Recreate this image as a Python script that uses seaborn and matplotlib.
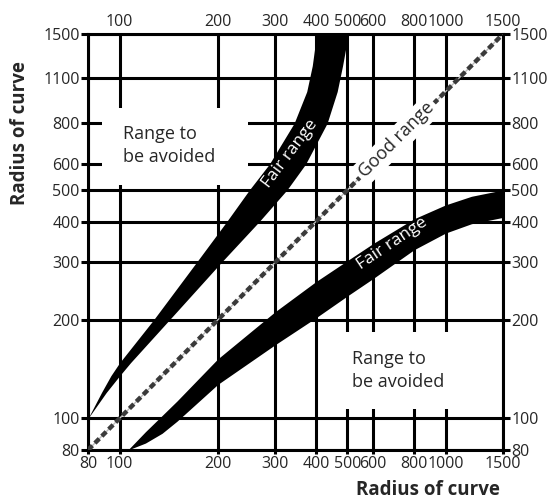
import matplotlib
matplotlib.use("Agg")
import matplotlib.pyplot as plt
import seaborn as sns
import pandas as pd
from matplotlib.patches import Rectangle
from matplotlib.ticker import NullLocator, NullFormatter

# tick values on the four sides
x_ticks = [80, 100, 200, 300, 400, 500, 600, 800, 1000, 1500]
top_ticks = [100, 200, 300, 400, 500, 600, 800, 1000, 1500]
y_ticks = [80, 100, 200, 300, 400, 500, 600, 800, 1100, 1500]

# upper "Fair range" band: left / right x edge for each radius on the y axis
upper_y = [100, 120, 135, 148, 200, 300, 400, 500, 600, 800, 1000, 1200, 1500]
upper_left = [80, 88, 94, 100, 127, 172, 213, 250, 288, 343, 375, 390, 402]
upper_right = [80, 91, 100, 108, 142, 205, 268, 326, 372, 433, 465, 483, 503]

# lower "Fair range" band: top / bottom y edge for each radius on the x axis
lower_x = [106, 120, 135, 150, 200, 300, 400, 500, 600, 800, 1000, 1200, 1500]
lower_top = [80, 91, 102, 113, 152, 212, 262, 304, 343, 408, 450, 478, 500]
lower_bottom = [80, 84, 90, 98, 127, 168, 203, 237, 268, 328, 369, 394, 412]

# "Good range" diagonal
good = pd.DataFrame({"x": [80, 1500], "y": [80, 1500]})

sns.set_style("white")
plt.rcParams["font.family"] = ["Open Sans", "DejaVu Sans"]

fig = plt.figure(figsize=(5.48, 4.99), dpi=100)
ax = fig.add_axes([88 / 548, 1 - 450 / 499, 415 / 548, 416 / 499])
ax.set_xscale("log")
ax.set_yscale("log")
ax.set_xlim(80, 1500)
ax.set_ylim(80, 1500)

ax.set_xticks(x_ticks, [str(v) for v in x_ticks])
ax.set_yticks(y_ticks, [str(v) for v in y_ticks])
ax.xaxis.set_minor_locator(NullLocator())
ax.yaxis.set_minor_locator(NullLocator())
ax.grid(True, which="major", color="black", lw=2.2)
ax.set_axisbelow(True)
for s in ax.spines.values():
    s.set_linewidth(2.2)
    s.set_color("black")
ax.tick_params(axis="y", length=5, width=2.2, pad=1, labelsize=11.5,
               direction="out", left=True, color="black")
ax.tick_params(axis="x", length=3, width=2.2, pad=1, labelsize=11.5,
               direction="out", bottom=True, color="black")

# top and right labels
secx = ax.secondary_xaxis("top")
secx.set_ticks(top_ticks, labels=[str(v) for v in top_ticks])
secx.xaxis.set_minor_locator(NullLocator())
secx.xaxis.set_minor_formatter(NullFormatter())
secx.tick_params(which="both", length=0, pad=3, labelsize=11.5)
secx.spines["top"].set_visible(False)

secy = ax.secondary_yaxis("right")
secy.set_ticks(y_ticks, labels=[str(v) for v in y_ticks])
secy.yaxis.set_minor_locator(NullLocator())
secy.yaxis.set_minor_formatter(NullFormatter())
secy.tick_params(which="major", length=5, width=2.2, pad=1, labelsize=11.5,
                 direction="out", color="black")
secy.tick_params(which="minor", length=0)
secy.spines["right"].set_visible(False)

# fair range bands
ax.fill_betweenx(upper_y, upper_left, upper_right, color="black", lw=0, zorder=2)
ax.fill_between(lower_x, lower_bottom, lower_top, color="black", lw=0, zorder=2)

# good range diagonal
sns.lineplot(data=good, x="x", y="y", ax=ax, color="#bbbbbb", lw=1, zorder=2.5)
sns.lineplot(data=good, x="x", y="y", ax=ax, color="#3a3a3a", lw=3.2,
             linestyle=(0, (1.4, 0.8)), zorder=2.6)

# white boxes hiding the grid behind the labels
ax.add_patch(Rectangle((0.034, 0.637), 0.352, 0.185, transform=ax.transAxes,
                       facecolor="white", edgecolor="none", zorder=3))
ax.add_patch(Rectangle((0.571, 0.098), 0.325, 0.186, transform=ax.transAxes,
                       facecolor="white", edgecolor="none", zorder=3))
ax.text(0.084, 0.732, "Range to\nbe avoided", transform=ax.transAxes,
        ha="left", va="center", fontsize=13, linespacing=1.35, zorder=4)
ax.text(0.636, 0.192, "Range to\nbe avoided", transform=ax.transAxes,
        ha="left", va="center", fontsize=13, linespacing=1.35, zorder=4)

ax.text(0.744, 0.745, "Good range", transform=ax.transAxes, rotation=45,
        rotation_mode="anchor", ha="center", va="center", fontsize=13,
        bbox=dict(facecolor="white", edgecolor="none", pad=2.5), zorder=4)
ax.text(0.487, 0.713, "Fair range", transform=ax.transAxes, rotation=53,
        rotation_mode="anchor", ha="center", va="center", fontsize=12.5,
        color="white", zorder=4)
ax.text(0.732, 0.497, "Fair range", transform=ax.transAxes, rotation=34,
        rotation_mode="anchor", ha="center", va="center", fontsize=12.5,
        color="white", zorder=4)

ax.set_xlabel("Radius of curve", fontsize=13.5, fontweight="bold", loc="right")
ax.xaxis.set_label_coords(0.993, -0.072)
ax.set_ylabel("Radius of curve", fontsize=13.5, fontweight="bold")
ax.yaxis.set_label_coords(-0.14, 0.762)

fig.savefig("out.png", dpi=100)
